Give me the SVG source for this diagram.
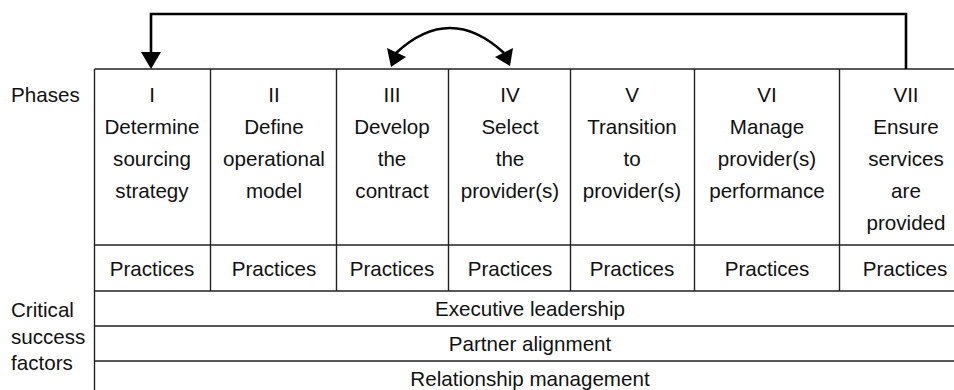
<svg xmlns="http://www.w3.org/2000/svg" width="954" height="390" viewBox="0 0 954 390">
  <style>
    text { font-family: "Liberation Sans", Arial, sans-serif; font-size: 20.6px; fill: #111; }
    .c { text-anchor: middle; }
    .grid { stroke: #222; stroke-width: 1.4; fill: none; }
    .flow { stroke: #000; stroke-width: 2.6; fill: none; }
  </style>

  <!-- row labels -->
  <g id="labels">
    <text x="11" y="102">Phases</text>
    <text x="11" y="317">Critical</text>
    <text x="11" y="344">success</text>
    <text x="11" y="370">factors</text>
  </g>

  <!-- table grid -->
  <g id="grid" class="grid">
    <path d="M94.5,69 H954 M94.5,69 V390"/>
    <path d="M210.5,69 V291 M336.5,69 V291 M448.5,69 V291 M570.5,69 V291 M694.5,69 V291 M839.5,69 V291"/>
    <path d="M94.5,245 H954 M94.5,291 H954 M94.5,326 H954 M94.5,361 H954"/>
  </g>

  <g id="phase1">
    <text class="c" x="152" y="102">I</text>
    <text class="c" x="152" y="134">Determine</text>
    <text class="c" x="152" y="166">sourcing</text>
    <text class="c" x="152" y="198">strategy</text>
    <text class="c" x="152" y="276">Practices</text>
  </g>
  <g id="phase2">
    <text class="c" x="274" y="102">II</text>
    <text class="c" x="274" y="134">Define</text>
    <text class="c" x="274" y="166">operational</text>
    <text class="c" x="274" y="198">model</text>
    <text class="c" x="274" y="276">Practices</text>
  </g>
  <g id="phase3">
    <text class="c" x="392" y="102">III</text>
    <text class="c" x="392" y="134">Develop</text>
    <text class="c" x="392" y="166">the</text>
    <text class="c" x="392" y="198">contract</text>
    <text class="c" x="392" y="276">Practices</text>
  </g>
  <g id="phase4">
    <text class="c" x="510" y="102">IV</text>
    <text class="c" x="510" y="134">Select</text>
    <text class="c" x="510" y="166">the</text>
    <text class="c" x="510" y="198">provider(s)</text>
    <text class="c" x="510" y="276">Practices</text>
  </g>
  <g id="phase5">
    <text class="c" x="632" y="102">V</text>
    <text class="c" x="632" y="134">Transition</text>
    <text class="c" x="632" y="166">to</text>
    <text class="c" x="632" y="198">provider(s)</text>
    <text class="c" x="632" y="276">Practices</text>
  </g>
  <g id="phase6">
    <text class="c" x="767" y="102">VI</text>
    <text class="c" x="767" y="134">Manage</text>
    <text class="c" x="767" y="166">provider(s)</text>
    <text class="c" x="767" y="198">performance</text>
    <text class="c" x="767" y="276">Practices</text>
  </g>
  <g id="phase7">
    <text class="c" x="906" y="102">VII</text>
    <text class="c" x="906" y="134">Ensure</text>
    <text class="c" x="906" y="166">services</text>
    <text class="c" x="906" y="198">are</text>
    <text class="c" x="906" y="230">provided</text>
    <text class="c" x="905" y="276">Practices</text>
  </g>

  <g id="factors">
    <text class="c" x="530" y="316">Executive leadership</text>
    <text class="c" x="530" y="351">Partner alignment</text>
    <text class="c" x="530" y="386">Relationship management</text>
  </g>

  <!-- connectors -->
  <g id="connectors">
    <!-- feedback loop from VII back to I -->
    <path class="flow" d="M906,69 V14 H151 V53"/>
    <path d="M141,52 L161,52 L151,69 Z" fill="#000"/>
    <!-- two-way link between III and IV -->
    <path class="flow" d="M396,53 Q450,3 504,53"/>
    <path d="M391,67 L387,48 L406,57 Z" fill="#000"/>
    <path d="M510,66 L513,48 L495,57 Z" fill="#000"/>
  </g>
</svg>
